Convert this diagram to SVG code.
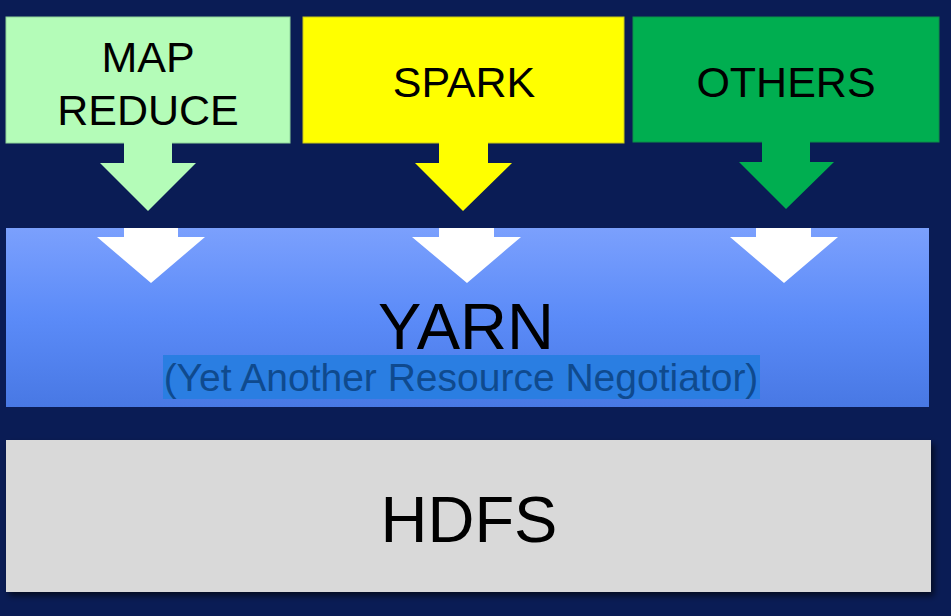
<svg xmlns="http://www.w3.org/2000/svg" width="951" height="616" viewBox="0 0 951 616">
<defs>
<linearGradient id="yarnGrad" x1="0" y1="0" x2="0" y2="1">
<stop offset="0" stop-color="#7ba0fd"/>
<stop offset="0.5" stop-color="#5b8bf8"/>
<stop offset="1" stop-color="#4878e4"/>
</linearGradient>
<filter id="shadow" x="-5%" y="-10%" width="110%" height="130%">
<feDropShadow dx="3" dy="4" stdDeviation="3" flood-color="#000000" flood-opacity="0.6"/>
</filter>
</defs>
<style>
.lbl{font-family:"Liberation Sans",Arial,sans-serif;fill:#000;text-anchor:middle}
.box{font-size:43px}
.big{font-size:65px}
.sub{font-family:"Liberation Sans",Arial,sans-serif;font-size:39px;fill:#0f4a8e;text-anchor:middle}
.white{fill:#ffffff}
</style>
<rect x="0" y="0" width="951" height="616" fill="#0a1c55"/>

<g id="yarn">
<rect x="6" y="228" width="923" height="179" fill="url(#yarnGrad)"/>
<text class="lbl big" x="466" y="349">YARN</text>
<rect x="163" y="355" width="597" height="44" fill="#2a7ee2"/>
<text class="sub" x="461" y="391">(Yet Another Resource Negotiator)</text>
</g>

<g id="hdfs">
<rect x="6" y="440" width="925" height="152" fill="#d9d9d9" filter="url(#shadow)"/>
<text class="lbl big" x="469" y="542">HDFS</text>
</g>

<g id="mapreduce">
<rect x="6" y="17" width="284" height="126" fill="#b4fcb8" stroke="#8fd49a" stroke-width="1"/>
<text class="lbl box" x="148" y="72">MAP</text>
<text class="lbl box" x="148" y="125">REDUCE</text>
</g>

<g id="spark">
<rect x="303" y="17" width="321" height="126" fill="#ffff00" stroke="#c8c81a" stroke-width="1"/>
<text class="lbl box" x="464" y="97">SPARK</text>
</g>

<g id="others">
<rect x="633" y="17" width="306" height="125" fill="#00ae50" stroke="#0d8f48" stroke-width="1"/>
<text class="lbl box" x="786" y="97">OTHERS</text>
</g>

<g id="connectors">
<polygon points="124,142 172,142 172,163 196,163 148,211 100,163 124,163" fill="#b4fcb8"/>
<polygon points="439,142 488,142 488,163 512,163 463,211 415,163 439,163" fill="#ffff00"/>
<polygon points="762,141 810,141 810,162 834,162 786,209 739,162 762,162" fill="#00ae50"/>
<polygon class="white" points="124,228 178,228 178,237 205,237 151,283 97,237 124,237"/>
<polygon class="white" points="439,228 494,228 494,237 521,237 467,283 412,237 439,237"/>
<polygon class="white" points="756,228 811,228 811,237 838,237 784,283 730,237 756,237"/>
</g>
</svg>
